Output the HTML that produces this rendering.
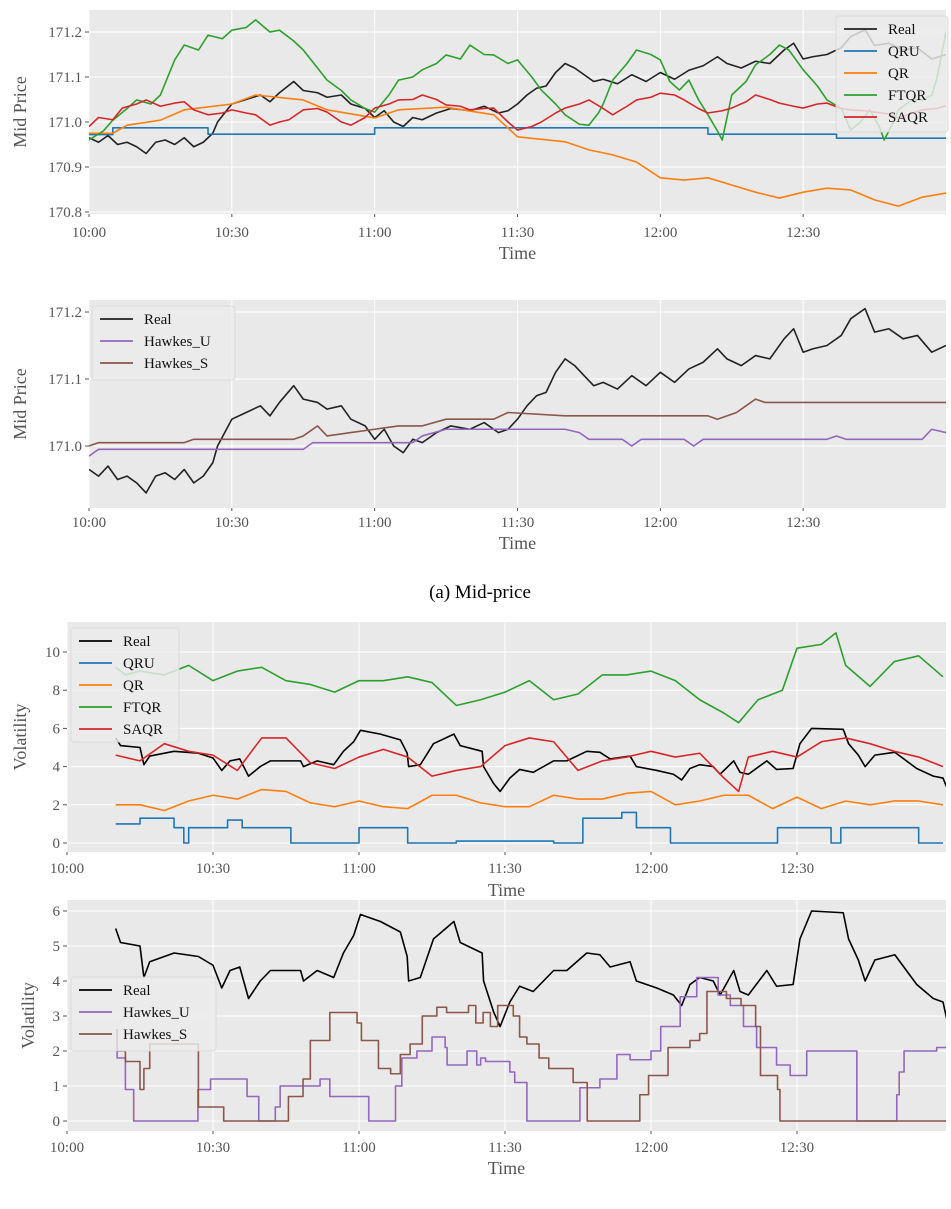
<!DOCTYPE html>
<html><head><meta charset="utf-8"><style>
html,body{margin:0;padding:0;background:#fff;}
svg{display:block;font-family:"Liberation Serif",serif;}
</style></head><body>
<svg id="fig" width="951" height="1209" viewBox="0 0 951 1209" xmlns="http://www.w3.org/2000/svg">
<text x="480" y="598" text-anchor="middle" font-size="19" fill="#000">(a) Mid-price</text>
</svg>
<script>
// ---------- Panel 1 / 2 (mid price) data ----------
const realMidT=[0,2,4,6,8,10,12,14,16,18,20,22,24,26,27,30,33,36,38,40,43,45,48,50,53,55,58,60,62,64,66,68,70,73,76,80,83,86,88,90,92,94,96,98,100,102,104,106,108,111,114,117,120,123,126,129,132,134,137,140,143,146,148,150,152,155,158,160,163,165,168,171,174,177,180];
const realMidV=[170.965,170.955,170.97,170.95,170.955,170.945,170.93,170.955,170.96,170.95,170.965,170.945,170.955,170.975,171.0,171.04,171.05,171.06,171.045,171.065,171.09,171.07,171.065,171.055,171.06,171.04,171.03,171.01,171.025,171.0,170.99,171.01,171.005,171.02,171.03,171.025,171.035,171.02,171.025,171.04,171.06,171.075,171.08,171.11,171.13,171.12,171.105,171.09,171.095,171.085,171.105,171.09,171.11,171.095,171.115,171.125,171.145,171.13,171.12,171.135,171.13,171.16,171.175,171.14,171.145,171.15,171.165,171.19,171.205,171.17,171.175,171.16,171.165,171.14,171.15];
const qruMidT=[0,5,25,60,130,157,180];
const qruMidV=[170.972,170.987,170.973,170.987,170.973,170.964,170.964];
const qrMidT=[0,5,8,15,20,30,35,45,50,60,65,75,85,90,100,105,110,115,120,125,130,135,140,145,150,155,160,165,170,175,180];
const qrMidV=[170.975,170.975,170.993,171.004,171.027,171.04,171.06,171.049,171.027,171.009,171.027,171.033,171.016,170.967,170.956,170.938,170.927,170.911,170.876,170.871,170.876,170.86,170.844,170.831,170.844,170.853,170.849,170.827,170.813,170.833,170.842];
const ftqrMidT=[0,3,5,8,10,13,15,18,20,23,25,28,30,33,35,38,40,43,45,48,50,53,55,58,60,63,65,68,70,73,75,78,80,83,85,88,90,93,95,98,100,103,105,107,108,110,113,115,118,120,122,124,126,128,130,132,133,135,138,140,143,145,147,150,153,155,158,160,162,164,166,167,169,170,173,175,177,178,180];
const ftqrMidV=[170.96,170.98,171.004,171.03,171.049,171.04,171.06,171.138,171.171,171.16,171.193,171.185,171.204,171.21,171.227,171.2,171.204,171.18,171.16,171.12,171.093,171.07,171.049,171.03,171.022,171.06,171.093,171.1,171.116,171.13,171.149,171.14,171.171,171.15,171.149,171.13,171.138,171.1,171.071,171.04,171.016,170.995,170.993,171.02,171.04,171.093,171.13,171.16,171.15,171.138,171.09,171.071,171.093,171.05,171.016,170.98,170.96,171.06,171.09,171.127,171.15,171.171,171.16,171.116,171.08,171.049,171.03,170.982,171.0,171.027,170.99,170.96,171.0,171.027,171.05,171.049,171.06,171.093,171.2];
const saqrMidT=[0,2,5,7,10,12,15,18,20,22,25,28,30,33,35,38,40,42,45,48,50,53,55,58,60,63,65,68,70,73,75,78,80,83,85,88,90,93,95,98,100,103,105,108,110,113,115,118,120,123,125,128,130,133,135,138,140,143,145,148,150,153,155,158,160,163,165,168,170,173,175,178,180];
const saqrMidV=[170.99,171.01,171.005,171.031,171.04,171.049,171.035,171.042,171.045,171.027,171.016,171.02,171.027,171.02,171.016,170.993,171.0,171.005,171.027,171.03,171.022,171.0,170.993,171.01,171.031,171.04,171.049,171.05,171.06,171.05,171.038,171.035,171.027,171.03,171.031,171.0,170.982,170.99,171.0,171.02,171.031,171.04,171.049,171.03,171.016,171.035,171.049,171.055,171.064,171.06,171.049,171.03,171.02,171.025,171.031,171.045,171.06,171.05,171.042,171.035,171.031,171.04,171.042,171.03,171.027,171.025,171.022,171.018,171.009,171.02,171.027,171.03,171.036];
const hawkesUMidT=[0,2,45,47,68,70,75,100,103,105,112,114,116,125,127,129,155,157,159,175,177,180];
const hawkesUMidV=[170.985,170.995,170.995,171.005,171.005,171.015,171.025,171.025,171.02,171.01,171.01,171.0,171.01,171.01,171.0,171.01,171.01,171.015,171.01,171.01,171.025,171.02];
const hawkesSMidT=[0,2,20,22,43,45,48,50,55,60,65,70,75,85,88,100,130,132,136,138,140,142,180];
const hawkesSMidV=[171.0,171.005,171.005,171.01,171.01,171.015,171.03,171.015,171.02,171.025,171.03,171.03,171.04,171.04,171.05,171.045,171.045,171.04,171.05,171.06,171.07,171.065,171.065];
const midTicks1=[170.8,170.9,171.0,171.1,171.2];
const midTicks2=[171.0,171.1,171.2];
const timeTickMin=[0,30,60,90,120,150];
const timeTickLabels=["10:00","10:30","11:00","11:30","12:00","12:30"];

// ---------- Panel 3 / 4 (volatility) data ----------
const realVolT=[10,11,15,15.8,17,22,27,30,31.8,33.5,35.5,37.3,39.7,41.8,48,48.6,51.4,54.8,56.8,58.9,60.3,64.4,68.5,69.9,70.2,72.6,75.3,79.5,80.8,85.3,85.6,87.7,89,91,93,95.8,100,102.7,106.8,109.5,111.6,115.7,117,121.2,124.6,126.3,128,130,132.8,134.2,137,138.3,140,143.8,145.8,149.2,150.6,153,159.5,160.6,162.6,164,166,170.1,174.6,178,180,180.8];
const realVolV=[5.5,5.1,5.0,4.1,4.55,4.8,4.7,4.45,3.8,4.3,4.4,3.5,4.0,4.3,4.3,4.0,4.3,4.1,4.8,5.3,5.9,5.7,5.4,4.7,4.0,4.1,5.2,5.7,5.1,4.8,4.0,3.1,2.7,3.4,3.85,3.7,4.3,4.3,4.8,4.75,4.4,4.55,4.0,3.8,3.6,3.3,3.9,4.1,4.0,3.6,4.3,3.7,3.6,4.3,3.85,3.9,5.2,6.0,5.95,5.2,4.6,4.0,4.6,4.75,3.9,3.5,3.4,2.9];
const qruVolT=[10,15,22,24,25,33,36,46,60,70,80,100,106,114,117,124,146,157,159,170,175,180];
const qruVolV=[1.0,1.3,0.8,0.0,0.8,1.2,0.8,0.0,0.8,0.0,0.1,0.0,1.3,1.6,0.8,0.0,0.8,0.0,0.8,0.8,0.0,0.0];
const qrVolT=[10,15,20,25,30,35,40,45,50,55,60,65,70,75,80,85,90,95,100,105,110,115,120,125,130,135,140,145,150,155,160,165,170,175,180];
const qrVolV=[2.0,2.0,1.7,2.2,2.5,2.3,2.8,2.7,2.1,1.9,2.2,1.9,1.8,2.5,2.5,2.1,1.9,1.9,2.5,2.3,2.3,2.6,2.7,2.0,2.2,2.5,2.5,1.8,2.4,1.8,2.2,2.0,2.2,2.2,2.0];
const ftqrVolT=[10,12,15,20,25,30,35,40,45,50,55,60,65,70,75,80,85,90,95,100,105,110,115,120,125,130,135,138,142,147,150,155,158,160,165,170,175,180];
const ftqrVolV=[9.2,8.8,9.0,8.8,9.3,8.5,9.0,9.2,8.5,8.3,7.9,8.5,8.5,8.7,8.4,7.2,7.5,7.9,8.5,7.5,7.8,8.8,8.8,9.0,8.5,7.5,6.8,6.3,7.5,8.0,10.2,10.4,11.0,9.3,8.2,9.5,9.8,8.7];
const saqrVolT=[10,15,20,25,30,35,40,45,50,55,60,65,70,75,80,85,90,95,100,105,110,115,120,125,130,135,138,140,145,150,155,160,165,170,175,180];
const saqrVolV=[4.6,4.3,5.2,4.8,4.6,3.8,5.5,5.5,4.2,3.9,4.5,4.9,4.5,3.5,3.8,4.0,5.1,5.5,5.3,3.8,4.3,4.5,4.8,4.5,4.7,3.4,2.7,4.5,4.8,4.5,5.3,5.5,5.2,4.8,4.5,4.0];
const hawkesUVolT=[10,10.3,12,13.7,26.9,29.5,37,39.4,42.8,43.8,52,54,62,67.5,68.8,71.9,75,77.7,78.1,82.2,84.2,85,86,91,92,94.5,105.4,109.5,113,115.7,120,122,126,129.4,133.8,136.3,139,141.7,145.8,148.6,152,162.3,170.5,171,172,178.7,180.7];
const hawkesUVolV=[2.6,1.8,0.9,0,0.9,1.2,0.7,0,0.4,1.0,1.2,0.7,0,1.0,1.8,2.0,2.4,2.1,1.6,2.0,1.6,1.8,1.7,1.4,1.1,0,0.95,1.2,1.9,1.75,2.0,2.7,3.55,4.1,3.6,3.3,2.7,2.1,1.6,1.3,2.0,0,0.75,1.4,2.0,2.1,2.1];
const hawkesSVolT=[10,10.3,12,15,15.8,17,27,32.2,45.5,48.5,50,54,59.6,60.5,64,66.5,68.5,70.5,73,76,78,82.5,84,85.5,87,88.5,91.7,93,94.5,97,99,104,106.9,117.7,119.5,123.5,128,130,131.5,135.5,138.5,141.5,142.5,146,146.5,180.7];
const hawkesSVolV=[2.6,2.0,1.7,0.9,1.5,2.2,0.4,0,0.7,1.2,2.3,3.1,2.8,2.3,1.5,1.35,1.9,2.2,3.0,3.25,3.1,3.3,2.8,3.1,2.7,3.3,3.0,2.4,2.2,1.8,1.5,1.1,0,0.75,1.3,2.1,2.3,2.5,3.7,3.5,3.3,2.7,1.3,0.9,0,0];
const volTicks3=[0,2,4,6,8,10];
const volTicks4=[0,1,2,3,4,5,6];

const NS="http://www.w3.org/2000/svg";
const svg=document.getElementById('fig');
function mk(tag,attrs,parent){const e=document.createElementNS(NS,tag);for(const k in attrs)e.setAttribute(k,attrs[k]);(parent||svg).appendChild(e);return e;}
const C={black:"#222",blue:"#1f77b4",orange:"#ff7f0e",green:"#2ca02c",red:"#d62728",purple:"#9467bd",brown:"#8c564b"};

function panel(p){
  const g=mk('g',{});
  
  
  const bg=mk('rect',{x:p.x0,y:p.top,width:p.x1-p.x0,height:p.bottom-p.top,fill:"#e9e9e9"},g);
  
  
  const xs=t=>p.x0+t*p.ppm, ys=v=>p.yz-(v-p.v0)*p.ppv;
  timeTickMin.forEach((t,i)=>{
    const x=xs(t);
    mk('line',{x1:x,x2:x,y1:p.top,y2:p.bottom,stroke:"#fff","stroke-width":1},g);
    mk('line',{x1:x,x2:x,y1:p.bottom,y2:p.bottom+3,stroke:"#555","stroke-width":1},g);
    const tl=mk('text',{x:x,y:p.xlabY,"text-anchor":"middle","font-size":15,fill:"#555"},g);
    tl.textContent=timeTickLabels[i];
    
    
  });
  p.ticks.forEach(v=>{
    const y=ys(v);
    mk('line',{x1:p.x0,x2:p.x1,y1:y,y2:y,stroke:"#fff","stroke-width":1},g);
    mk('line',{x1:p.x0-4,x2:p.x0,y1:y,y2:y,stroke:"#555","stroke-width":1},g);
    const tl=mk('text',{x:p.x0-7,y:y+5,"text-anchor":"end","font-size":15,fill:"#555"},g);
    tl.textContent=p.fmt(v);
    
    
  });
  const xt=mk('text',{x:(p.x0+p.x1)/2,y:p.timeY,"text-anchor":"middle","font-size":18,fill:"#555"},g);
  xt.textContent="Time";
  
  
  const yt=mk('text',{x:p.ylX,y:(p.top+p.bottom)/2,"text-anchor":"middle","font-size":18,fill:"#555",transform:`rotate(-90 ${p.ylX} ${(p.top+p.bottom)/2})`},g);
  yt.textContent=p.ytitle;
  
  
  const clip=mk('clipPath',{id:'clip-'+p.name},g);
  mk('rect',{x:p.x0,y:p.top,width:p.x1-p.x0,height:p.bottom-p.top},clip);
  p.series.forEach(s=>{
    let d="";
    s.t.forEach((t,i)=>{
      const x=xs(t),y=ys(s.v[i]);
      if(i===0)d+=`M${x},${y}`;
      else if(s.step){d+=`H${x}V${y}`;}
      else d+=`L${x},${y}`;
    });
    const path=mk('path',{d:d,fill:"none",stroke:s.color,"stroke-width":1.6,"stroke-linejoin":"round","clip-path":`url(#clip-${p.name})`},g);
    
    
  });
  const L=p.legend;
  const lg=mk('g',{},svg);
  
  
  mk('rect',{x:L.x,y:L.y,width:L.w,height:L.h,rx:3,fill:"rgba(236,236,236,0.82)",stroke:"rgba(215,215,215,0.8)"},lg);
  p.series.forEach((s,i)=>{
    const y=L.y+L.first+i*22;
    const e=mk('g',{},lg);
    
    
    mk('line',{x1:L.x+8,x2:L.x+41,y1:y,y2:y,stroke:s.color,"stroke-width":1.8},e);
    const t=mk('text',{x:L.x+52,y:y+5,"font-size":15,fill:"#111"},e);
    t.textContent=s.label;
  });
}

panel({name:"mid-price-models",x0:89,x1:946,top:10,bottom:214,ppm:857/180,yz:122,v0:171,ppv:450,
  ticks:midTicks1,fmt:v=>v.toFixed(1),xlabY:237,timeY:259,ylX:26,ytitle:"Mid Price",
  series:[{label:"Real",t:realMidT,v:realMidV,color:C.black},{label:"QRU",t:qruMidT,v:qruMidV,color:C.blue,step:true},
    {label:"QR",t:qrMidT,v:qrMidV,color:C.orange},{label:"FTQR",t:ftqrMidT,v:ftqrMidV,color:C.green},{label:"SAQR",t:saqrMidT,v:saqrMidV,color:C.red}],
  legend:{x:836,y:16,w:112,h:116,first:13}});
panel({name:"mid-price-hawkes",x0:89,x1:946,top:300,bottom:508,ppm:857/180,yz:446,v0:171,ppv:670,
  ticks:midTicks2,fmt:v=>v.toFixed(1),xlabY:527,timeY:549,ylX:26,ytitle:"Mid Price",
  series:[{label:"Real",t:realMidT,v:realMidV,color:C.black},{label:"Hawkes_U",t:hawkesUMidT,v:hawkesUMidV,color:C.purple},{label:"Hawkes_S",t:hawkesSMidT,v:hawkesSMidV,color:C.brown}],
  legend:{x:92,y:306,w:143,h:74,first:13}});
panel({name:"volatility-models",x0:67,x1:946,top:622,bottom:852,ppm:146/30,yz:843,v0:0,ppv:19.1,
  ticks:volTicks3,fmt:v=>String(v),xlabY:873,timeY:896,ylX:26,ytitle:"Volatility",
  series:[{label:"Real",t:realVolT,v:realVolV,color:"#000"},{label:"QRU",t:qruVolT,v:qruVolV,color:C.blue,step:true},
    {label:"QR",t:qrVolT,v:qrVolV,color:C.orange},{label:"FTQR",t:ftqrVolT,v:ftqrVolV,color:C.green},{label:"SAQR",t:saqrVolT,v:saqrVolV,color:C.red}],
  legend:{x:71,y:628,w:108,h:114,first:13}});
panel({name:"volatility-hawkes",x0:67,x1:946,top:900,bottom:1131,ppm:146/30,yz:1121,v0:0,ppv:35,
  ticks:volTicks4,fmt:v=>String(v),xlabY:1152,timeY:1174,ylX:34,ytitle:"Volatility",
  series:[{label:"Real",t:realVolT,v:realVolV,color:"#000"},{label:"Hawkes_U",t:hawkesUVolT,v:hawkesUVolV,color:C.purple,step:true},{label:"Hawkes_S",t:hawkesSVolT,v:hawkesSVolV,color:C.brown,step:true}],
  legend:{x:71,y:977,w:145,h:74,first:13}});
</script>
</body></html>
